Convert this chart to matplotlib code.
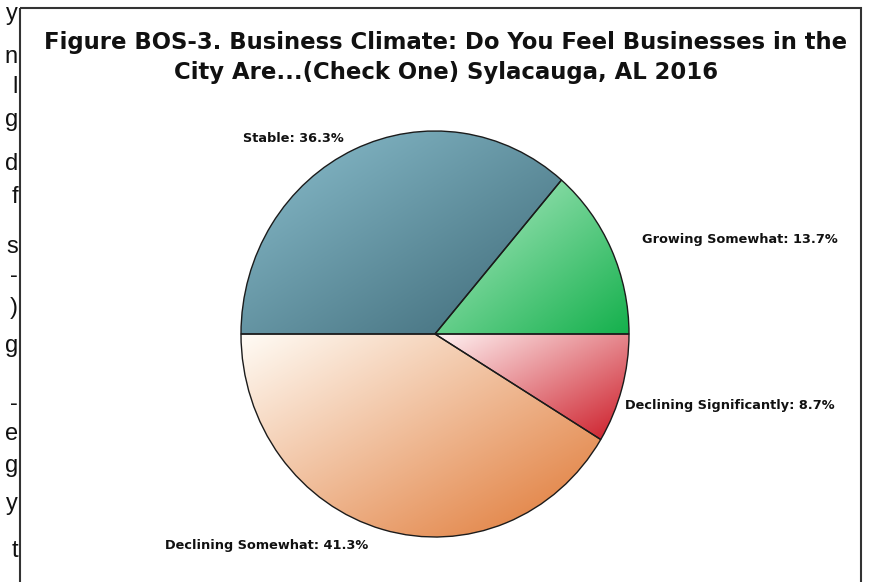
import numpy as np
import matplotlib
matplotlib.use("Agg")
import matplotlib.pyplot as plt
from matplotlib.colors import to_rgb
from matplotlib.patches import Rectangle

# Survey responses, drawn counter-clockwise from 3 o'clock
categories = ["Growing Somewhat", "Stable", "Declining Somewhat", "Declining Significantly"]
shares = [13.7, 36.3, 41.3, 8.7]

title_lines = [
    "Figure BOS-3. Business Climate: Do You Feel Businesses in the",
    "City Are...(Check One) Sylacauga, AL 2016",
]

# Light / dark ends of each wedge's gradient
light_colors = ["#b4ecc8", "#8cc0cf", "#fffcf6", "#fff4f4"]
dark_colors = ["#14b04c", "#3d6876", "#df7530", "#cc1a26"]

# Letters from the neighbouring text column at the page edge
margin_chars = ["y", "n", "l", "g", "d", "f", "s", "-", ")", "g", "-", "e", "g", "y", "t"]
margin_baselines = [20, 63, 93, 126, 170, 203, 253, 282, 314, 352, 410, 440, 472, 510, 557]

W, H = 869, 582
fig = plt.figure(figsize=(W / 100, H / 100), dpi=100)
fig.patch.set_facecolor("white")

# Full-figure overlay in pixel coordinates for frame and text
over = fig.add_axes([0, 0, 1, 1])
over.set_xlim(0, W)
over.set_ylim(H, 0)
over.axis("off")

over.add_patch(Rectangle((20, 8), 841, 600, fill=False, edgecolor="#333333",
                         linewidth=1.5, zorder=1))

for ch, yb in zip(margin_chars, margin_baselines):
    over.text(18, yb, ch, ha="right", va="baseline", fontsize=17,
              family="Liberation Sans", color="#111111")

title_y = [42, 72]
for line, yy in zip(title_lines, title_y):
    over.text(446, yy, line, ha="center", va="center", fontsize=16.4,
              fontweight="bold", family="DejaVu Sans", color="#111111")

# Pie axes (slightly taller than wide)
cx, cy, rx, ry = 435, 334, 194, 203
pie_ax = fig.add_axes([(cx - rx) / W, 1 - (cy + ry) / H, 2 * rx / W, 2 * ry / H])
wedges, _ = pie_ax.pie(shares, startangle=0, counterclock=True, radius=1,
                       wedgeprops=dict(edgecolor="#1b1b1b", linewidth=1.0))
pie_ax.set_aspect("auto")
pie_ax.set_xlim(-1, 1)
pie_ax.set_ylim(-1, 1)
pie_ax.axis("off")

n = 400
gx, gy = np.meshgrid(np.linspace(-1, 1, n), np.linspace(1, -1, n))
for w, lc, dc in zip(wedges, light_colors, dark_colors):
    w.set_facecolor("none")
    verts = w.get_path().vertices
    x0, x1 = verts[:, 0].min(), verts[:, 0].max()
    y0, y1 = verts[:, 1].min(), verts[:, 1].max()
    # diagonal gradient across the wedge's bounding box, top-left to bottom-right
    t = ((gx - x0) / (x1 - x0) + (y1 - gy) / (y1 - y0)) / 2
    t = np.clip(t, 0, 1)[..., None]
    img = (1 - t) * np.array(to_rgb(lc)) + t * np.array(to_rgb(dc))
    im = pie_ax.imshow(img, extent=(-1, 1, -1, 1), origin="upper",
                       interpolation="bilinear", zorder=0.5, aspect="auto")
    im.set_clip_path(w)
    w.set_zorder(1)

# Value labels
label_pos = [(642, 240), (243, 139), (165, 545), (625, 405)]
for cat, val, (lx, ly) in zip(categories, shares, label_pos):
    over.text(lx, ly, f"{cat}: {val}%", ha="left", va="center", fontsize=9.3,
              fontweight="bold", family="DejaVu Sans", color="#111111")

fig.savefig("out.png", dpi=100, facecolor="white")
